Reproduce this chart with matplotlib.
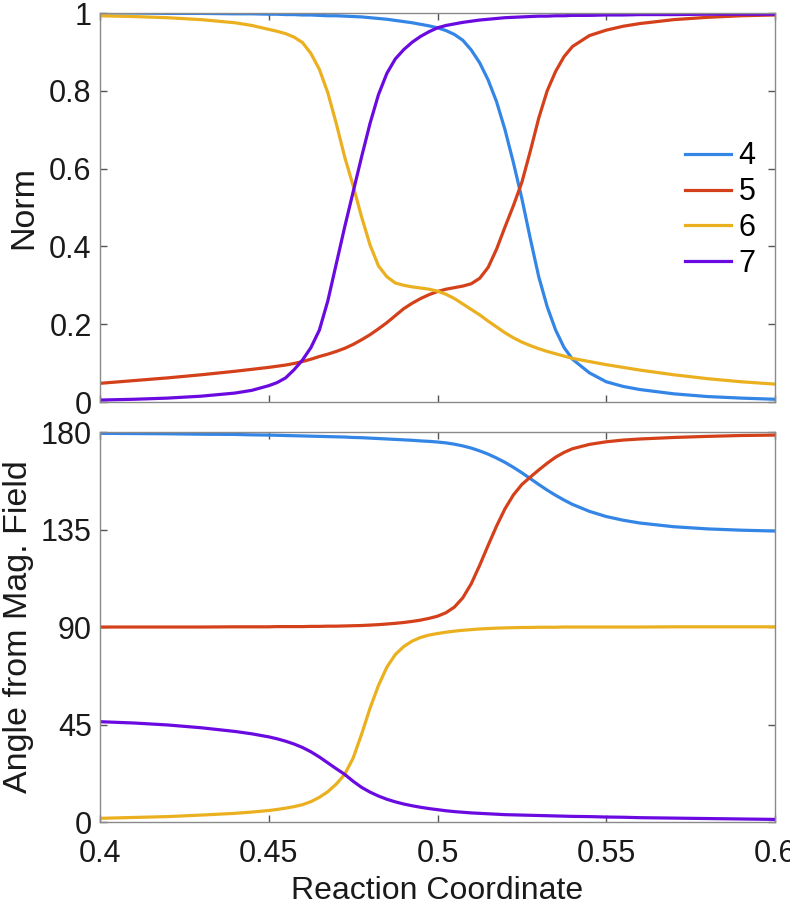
import matplotlib
matplotlib.use("Agg")
import matplotlib.pyplot as plt

plt.rcParams['font.family'] = ['Liberation Sans', 'DejaVu Sans']

# Reaction coordinate sample points
x = [0.40, 0.41, 0.42, 0.43, 0.44, 0.445, 0.45, 0.4525, 0.455, 0.4575,
     0.46, 0.4625, 0.465, 0.4675, 0.47, 0.4725, 0.475, 0.4775, 0.48, 0.4825,
     0.485, 0.4875, 0.49, 0.4925, 0.495, 0.4975, 0.50, 0.5025, 0.505, 0.5075,
     0.51, 0.5125, 0.515, 0.5175, 0.52, 0.5225, 0.525, 0.5275, 0.53, 0.5325,
     0.535, 0.5375, 0.54, 0.545, 0.55, 0.555, 0.56, 0.57, 0.58, 0.59, 0.60]

labels = ['4', '5', '6', '7']
colors = ['#3385E6', '#D4401A', '#EBB020', '#6A0AE0']

# Norm (top panel)
norm4 = [1.000, 1.000, 0.999, 0.999, 0.998, 0.998, 0.997, 0.997, 0.996, 0.996,
         0.995, 0.995, 0.994, 0.993, 0.993, 0.992, 0.991, 0.990, 0.988, 0.986,
         0.984, 0.981, 0.978, 0.975, 0.971, 0.967, 0.962, 0.955, 0.945, 0.930,
         0.905, 0.872, 0.828, 0.772, 0.700, 0.615, 0.523, 0.420, 0.322, 0.245,
         0.185, 0.140, 0.110, 0.075, 0.052, 0.040, 0.032, 0.021, 0.014, 0.010, 0.007]
norm5 = [0.048, 0.055, 0.062, 0.070, 0.079, 0.084, 0.089, 0.092, 0.095, 0.099,
         0.104, 0.110, 0.117, 0.123, 0.130, 0.138, 0.148, 0.160, 0.173, 0.188,
         0.204, 0.222, 0.240, 0.254, 0.266, 0.276, 0.284, 0.290, 0.294, 0.298,
         0.304, 0.318, 0.346, 0.393, 0.450, 0.505, 0.565, 0.645, 0.730, 0.800,
         0.850, 0.888, 0.914, 0.942, 0.956, 0.966, 0.973, 0.983, 0.989, 0.993, 0.995]
norm6 = [0.993, 0.991, 0.988, 0.983, 0.975, 0.968, 0.958, 0.953, 0.947, 0.938,
         0.924, 0.896, 0.855, 0.795, 0.716, 0.630, 0.556, 0.476, 0.404, 0.350,
         0.322, 0.306, 0.300, 0.296, 0.293, 0.290, 0.285, 0.277, 0.266, 0.252,
         0.238, 0.224, 0.208, 0.193, 0.178, 0.165, 0.154, 0.145, 0.137, 0.130,
         0.124, 0.118, 0.112, 0.104, 0.096, 0.089, 0.082, 0.070, 0.060, 0.052, 0.046]
norm7 = [0.005, 0.007, 0.010, 0.015, 0.023, 0.030, 0.042, 0.050, 0.062, 0.083,
         0.108, 0.140, 0.185, 0.260, 0.355, 0.450, 0.540, 0.630, 0.716, 0.790,
         0.845, 0.882, 0.906, 0.925, 0.940, 0.952, 0.962, 0.968, 0.972, 0.976,
         0.979, 0.982, 0.984, 0.986, 0.988, 0.989, 0.990, 0.991, 0.992, 0.992,
         0.993, 0.993, 0.994, 0.994, 0.995, 0.995, 0.996, 0.996, 0.997, 0.997, 0.997]

# Angle from magnetic field (bottom panel, degrees)
ang4 = [179.4, 179.3, 179.2, 179.0, 178.9, 178.7, 178.6, 178.5, 178.4, 178.3,
        178.2, 178.1, 178.0, 177.9, 177.8, 177.7, 177.5, 177.4, 177.2, 177.0,
        176.8, 176.6, 176.4, 176.2, 175.9, 175.7, 175.4, 175.0, 174.4, 173.6,
        172.6, 171.3, 169.8, 168.0, 166.0, 163.7, 161.2, 158.5, 155.8, 153.2,
        150.8, 148.6, 146.6, 143.4, 141.0, 139.3, 138.0, 136.3, 135.3, 134.7, 134.3]
ang5 = [90.0, 90.0, 90.0, 90.0, 90.1, 90.1, 90.1, 90.2, 90.2, 90.2,
        90.2, 90.3, 90.3, 90.4, 90.4, 90.5, 90.6, 90.7, 90.9, 91.1,
        91.4, 91.7, 92.1, 92.6, 93.2, 94.0, 95.0, 96.6, 99.2, 103.5,
        110.0, 118.5, 127.7, 136.6, 144.6, 151.0, 155.8, 159.2, 162.5, 165.6,
        168.4, 170.6, 172.3, 174.3, 175.5, 176.3, 176.8, 177.5, 178.0, 178.4, 178.6]
ang6 = [1.7, 2.1, 2.5, 3.2, 4.0, 4.6, 5.3, 5.8, 6.4, 7.1,
        8.0, 9.4, 11.4, 14.0, 17.5, 22.0, 29.5, 40.5, 52.5, 63.0,
        71.5, 77.3, 81.0, 83.5, 85.2, 86.3, 87.0, 87.6, 88.1, 88.5,
        88.8, 89.1, 89.3, 89.5, 89.6, 89.7, 89.8, 89.8, 89.9, 89.9,
        89.9, 90.0, 90.0, 90.0, 90.0, 90.0, 90.0, 90.1, 90.1, 90.1, 90.1]
ang7 = [46.3, 45.7, 44.8, 43.5, 41.8, 40.7, 39.3, 38.4, 37.3, 36.0,
        34.4, 32.4, 30.0, 27.3, 24.6, 22.0, 18.8, 16.0, 13.8, 12.0,
        10.5, 9.3, 8.3, 7.5, 6.8, 6.2, 5.7, 5.2, 4.8, 4.5,
        4.2, 4.0, 3.8, 3.6, 3.4, 3.3, 3.2, 3.1, 3.0, 2.9,
        2.8, 2.7, 2.6, 2.5, 2.3, 2.2, 2.0, 1.8, 1.6, 1.4, 1.2]

xticks = [0.4, 0.45, 0.5, 0.55, 0.6]
xticklabels = ['0.4', '0.45', '0.5', '0.55', '0.6']
norm_ticks = [0, 0.2, 0.4, 0.6, 0.8, 1]
norm_ticklabels = ['0', '0.2', '0.4', '0.6', '0.8', '1']
ang_ticks = [0, 45, 90, 135, 180]
ang_ticklabels = ['0', '45', '90', '135', '180']

fig = plt.figure(figsize=(7.9, 9.05), dpi=100)
ax1 = fig.add_axes([0.1266, 0.5558, 0.8544, 0.4298])
ax2 = fig.add_axes([0.1266, 0.0917, 0.8544, 0.4309])

for s, c, l in zip([norm4, norm5, norm6, norm7], colors, labels):
    ax1.plot(x, s, color=c, lw=2.3, label=l, solid_joinstyle='round')
for s, c in zip([ang4, ang5, ang6, ang7], colors):
    ax2.plot(x, s, color=c, lw=2.3, solid_joinstyle='round')

spine_col = '#8a8a8a'
txt_col = '#1a1a1a'
for ax in (ax1, ax2):
    ax.set_xlim(0.4, 0.6)
    ax.set_xticks(xticks)
    for sp in ax.spines.values():
        sp.set_color(spine_col)
        sp.set_linewidth(1.0)
    ax.tick_params(direction='in', length=5, width=1.0, color='#555555',
                   top=True, right=True, labelsize=22, labelcolor=txt_col)
    ax.tick_params(axis='y', pad=6)
    ax.tick_params(axis='x', pad=12)

ax1.set_ylim(0, 1)
ax1.set_yticks(norm_ticks)
ax1.set_yticklabels(norm_ticklabels)
ax1.set_xticklabels([])
ax1.set_ylabel('Norm', fontsize=24.5, color=txt_col, labelpad=7)
leg = ax1.legend(loc='upper left', bbox_to_anchor=(0.867, 0.67), frameon=False,
                 fontsize=22, handlelength=1.5, handletextpad=0.25, labelspacing=0.19,
                 borderpad=0, borderaxespad=0)

ax2.set_ylim(0, 180)
ax2.set_yticks(ang_ticks)
ax2.set_yticklabels(ang_ticklabels)
ax2.set_xticklabels(xticklabels)
ax2.set_ylabel('Angle from Mag. Field', fontsize=24.5, color=txt_col, labelpad=5)
ax2.set_xlabel('Reaction Coordinate', fontsize=23, color=txt_col, labelpad=5)

fig.savefig('out.png', dpi=100)
